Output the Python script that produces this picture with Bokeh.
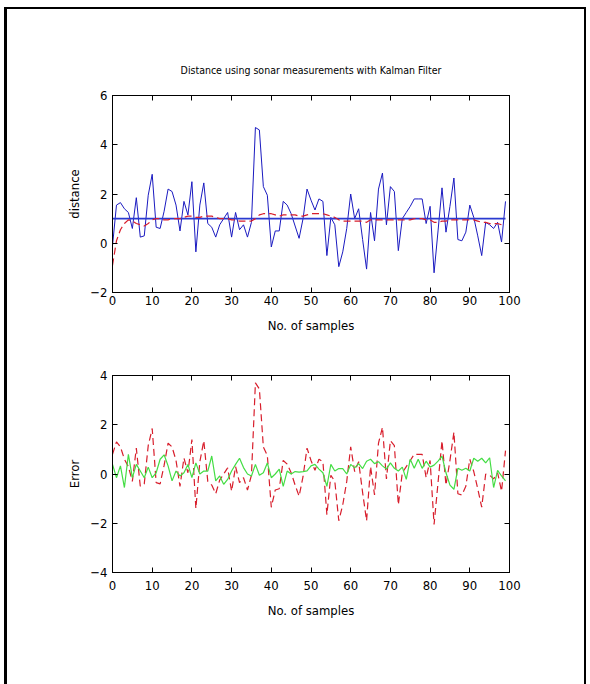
from bokeh.plotting import figure
from bokeh.layouts import column
from bokeh.models import FixedTicker, LinearAxis, Range1d, CustomLabelingPolicy
from bokeh.embed import file_html
from bokeh.resources import INLINE

# ---------------- data ----------------
samples = list(range(100))
measured = [-0.1, 1.55, 1.65, 1.4, 1.25, 0.6, 1.85, 0.25, 0.3, 1.95,
            2.8, 0.65, 0.6, 1.3, 2.2, 2.1, 1.55, 0.5, 1.7, 1.15,
            2.5, -0.35, 1.55, 2.45, 0.8, 0.65, 0.25, 0.75, 1.0, 1.25,
            0.25, 1.25, 0.55, 0.75, 0.25, 0.85, 4.7, 4.6, 2.3, 1.95,
            -0.15, 0.5, 0.5, 1.7, 1.55, 1.2, 0.7, 0.2, 1.0, 2.2,
            1.75, 1.35, 1.8, 1.7, -0.5, 1.05, 0.75, -0.95, -0.35, 0.6,
            2.0, 1.0, 1.4, 0.15, -1.05, 1.25, 0.1, 2.2, 2.85, 0.75,
            2.3, 2.1, -0.3, 1.0, 1.25, 1.5, 1.8, 1.8, 1.8, 0.8,
            1.5, -1.2, 0.5, 2.25, 0.45, 1.5, 2.65, 0.15, 0.1, 0.45,
            1.55, 1.05, 0.3, -0.5, 0.85, 0.75, 0.6, 0.85, 0.05, 1.7]
estimate = [-0.9, 0.1, 0.55, 0.8, 0.95, 0.9, 0.8, 0.75, 0.7, 0.8,
            0.95, 1.0, 1.0, 0.95, 0.95, 1.0, 1.0, 1.0, 1.05, 1.1,
            1.1, 1.05, 1.05, 1.1, 1.1, 1.1, 1.05, 1.0, 1.0, 1.0,
            0.95, 0.95, 0.9, 0.9, 0.9, 0.9, 1.0, 1.15, 1.2, 1.2,
            1.2, 1.15, 1.1, 1.15, 1.15, 1.15, 1.15, 1.1, 1.1, 1.15,
            1.2, 1.2, 1.2, 1.2, 1.15, 1.1, 1.05, 0.95, 0.9, 0.9,
            0.9, 0.9, 0.9, 0.9, 0.85, 0.95, 0.95, 0.95, 0.95, 0.95,
            0.95, 0.95, 0.95, 0.95, 0.95, 0.95, 1.0, 1.0, 1.0, 0.95,
            0.95, 0.85, 0.85, 0.9, 0.9, 0.95, 0.95, 0.95, 0.95, 0.95,
            0.95, 0.95, 0.9, 0.85, 0.85, 0.8, 0.8, 0.8, 0.75, 0.75]
true_x = [0, 99]
true_distance = [1.0, 1.0]
meas_error = [0.8, 1.3, 1.1, 0.6, 0.3, -0.3, 1.05, -0.5, -0.4, 1.15,
              1.85, -0.35, -0.4, 0.35, 1.25, 1.1, 0.55, -0.5, 0.65, 0.05,
              1.4, -1.4, 0.5, 1.35, -0.3, -0.45, -0.8, -0.25, 0.0, 0.25,
              -0.7, 0.3, -0.35, -0.15, -0.65, -0.05, 3.7, 3.45, 1.1, 0.75,
              -1.35, -0.65, -0.6, 0.55, 0.4, 0.05, -0.45, -0.9, -0.1, 1.05,
              0.55, 0.15, 0.6, 0.5, -1.65, -0.05, -0.3, -1.9, -1.25, -0.3,
              1.1, 0.1, 0.5, -0.75, -1.9, 0.3, -0.85, 1.25, 1.9, -0.2,
              1.35, 1.15, -1.25, 0.05, 0.3, 0.55, 0.8, 0.8, 0.8, -0.15,
              0.55, -2.05, -0.35, 1.35, -0.45, 0.55, 1.7, -0.8, -0.85, -0.5,
              0.6, 0.1, -0.6, -1.35, 0.0, -0.05, -0.2, 0.05, -0.7, 0.95]
est_error = [0.39, -0.15, 0.33, -0.55, 0.8, -0.15, 0.39, 0.12, -0.15, 0.28,
             -0.15, 0.05, 0.6, 0.78, 0.33, -0.28, 0.12, -0.08, 0.05, 0.39,
             -0.15, 0.45, 0.0, 0.12, 0.12, 0.73, -0.28, -0.08, -0.42, -0.22,
             0.12, 0.39, 0.64, 0.26, 0.0, -0.08, 0.39, -0.05, 0.05, 0.45,
             -0.15, 0.0, 0.2, -0.5, 0.12, 0.0, 0.1, 0.08, 0.1, 0.13,
             0.33, 0.39, 0.2, 0.05, -0.5, 0.39, 0.12, 0.22, 0.22, 0.0,
             0.39, 0.25, 0.42, 0.22, 0.52, 0.6, 0.42, 0.5, 0.33, 0.2,
             0.45, 0.23, 0.12, 0.28, -0.22, 0.6, 0.23, 0.6, 0.23, 0.52,
             0.28, 0.36, 0.52, 0.73, 0.05, -0.45, -0.62, 0.23, 0.15, 0.23,
             0.12, 0.64, 0.52, 0.64, 0.45, 0.66, -0.55, 0.15, -0.08, -0.28]
x_ticks = [0, 10, 20, 30, 40, 50, 60, 70, 80, 90, 100]
y1_ticks = [-2, 0, 2, 4, 6]
y2_ticks = [-4, -2, 0, 2, 4]

title_text = "Distance using sonar measurements with Kalman Filter"
xlabel = "No. of samples"

FONT = "DejaVu Sans Condensed"
BLUE = "#1a1ac0"
TRUE_BLUE = "#2a3ad0"
RED = "#d81e2c"
GREEN = "#44dd44"

HIDE = """
for (const i of [...indices]) { indices.unset(i) }
return indices
"""


def style(p, yticks, ylabel, tick_standoff, label_standoff):
    p.outline_line_color = "black"
    p.outline_line_width = 1
    p.grid.visible = False
    p.background_fill_color = "white"
    p.border_fill_color = "white"
    for ax in p.xaxis:
        ax.ticker = FixedTicker(ticks=x_ticks)
    for ax in p.yaxis:
        ax.ticker = FixedTicker(ticks=yticks)
    for ax in list(p.xaxis) + list(p.yaxis):
        ax.major_tick_in = 5
        ax.major_tick_out = 0
        ax.minor_tick_in = 0
        ax.minor_tick_out = 0
        ax.axis_line_color = "black"
        ax.major_tick_line_color = "black"
        ax.major_label_text_font = FONT
        ax.major_label_text_font_size = "13px"
        ax.major_label_text_color = "black"
        ax.axis_label_text_font = FONT
        ax.axis_label_text_font_size = "13px"
        ax.axis_label_text_font_style = "normal"
        ax.axis_label_text_color = "black"
    p.xaxis[0].axis_label = xlabel
    p.xaxis[0].major_label_standoff = tick_standoff
    p.xaxis[0].axis_label_standoff = label_standoff
    p.yaxis[0].axis_label = ylabel
    p.yaxis[0].major_label_standoff = 5
    p.yaxis[0].axis_label_standoff = 5
    top = LinearAxis(ticker=FixedTicker(ticks=x_ticks),
                     major_label_policy=CustomLabelingPolicy(code=HIDE),
                     major_tick_in=5, major_tick_out=0, minor_tick_in=0, minor_tick_out=0,
                     major_label_standoff=0)
    right = LinearAxis(ticker=FixedTicker(ticks=yticks),
                       major_label_policy=CustomLabelingPolicy(code=HIDE),
                       major_tick_in=5, major_tick_out=0, minor_tick_in=0, minor_tick_out=0,
                       major_label_standoff=0)
    p.add_layout(top, "above")
    p.add_layout(right, "right")


p1 = figure(width=577, height=336, x_range=Range1d(0, 100), y_range=Range1d(-2, 6),
            output_backend="svg", toolbar_location=None,
            min_border_left=105, min_border_right=75, min_border_top=86, min_border_bottom=53)
p1.title.text = title_text
p1.title.align = "center"
p1.title.text_font = FONT
p1.title.text_font_size = "10.5px"
p1.title.text_font_style = "normal"
p1.title.text_color = "black"
p1.title.standoff = 17
style(p1, y1_ticks, "distance", 3, 10)
p1.line(samples, measured, line_color=BLUE, line_width=1)
p1.line(true_x, true_distance, line_color=TRUE_BLUE, line_width=1.6)
p1.line(samples, estimate, line_color=RED, line_width=1.2, line_dash="7 4")

p2 = figure(width=577, height=339, x_range=Range1d(0, 100), y_range=Range1d(-4, 4),
            output_backend="svg", toolbar_location=None,
            min_border_left=105, min_border_right=75, min_border_top=30, min_border_bottom=112)
style(p2, y2_ticks, "Error", 8, 10)
p2.line(samples, meas_error, line_color=RED, line_width=1.2, line_dash="7 4")
p2.line(samples, est_error, line_color=GREEN, line_width=1.2)

layout = column(p1, p2, spacing=0,
                styles={"border-top": "2px solid black",
                        "border-left": "3px solid black",
                        "border-right": "2px solid black",
                        "margin-left": "4px",
                        "margin-top": "7px"})
open("out.html", "w").write(file_html(layout, INLINE))
